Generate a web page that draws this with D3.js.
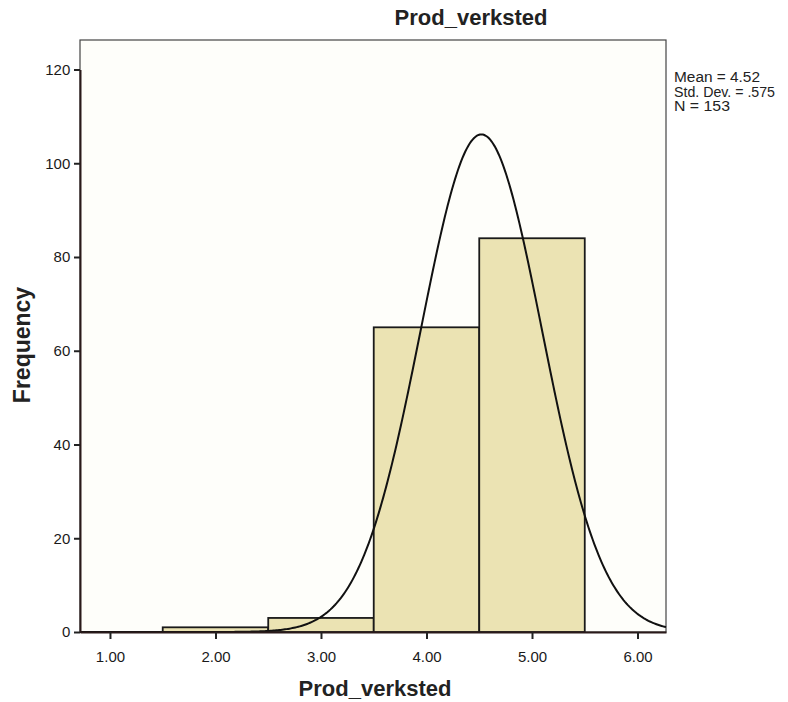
<!DOCTYPE html>
<html><head><meta charset="utf-8">
<script src="https://cdn.jsdelivr.net/npm/d3@7"></script>
<style>body{margin:0;background:#fff}svg{display:block}text{font-family:"Liberation Sans",Arial,sans-serif}</style>
</head><body>
<svg id="c" width="788" height="702"></svg>
<script>
const binStarts = [1.5, 2.5, 3.5, 4.5];
const binEnds = [2.5, 3.5, 4.5, 5.5];
const counts = [1, 3, 65, 84];
const xTicks = [1, 2, 3, 4, 5, 6];
const yTicks = [0, 20, 40, 60, 80, 100, 120];
const statMean = 4.52, statSD = 0.575, statN = 153, binWidth = 1;
const statLabels = ["Mean = 4.52", "Std. Dev. = .575", "N = 153"];

const svg = d3.select("#c");
const L = 80, R = 666, T = 40, B = 632;
const x = d3.scaleLinear().domain([0.716, 6.27]).range([L, R]);
const y = d3.scaleLinear().domain([0, 120]).range([B, 69.5]);

svg.append("rect").attr("x", L).attr("y", T).attr("width", R - L).attr("height", B - T)
  .attr("fill", "#fefefa").attr("stroke", "#444").attr("stroke-width", 1.2);

svg.append("g").selectAll("rect").data(counts).join("rect")
  .attr("x", (d, i) => x(binStarts[i]))
  .attr("width", (d, i) => x(binEnds[i]) - x(binStarts[i]))
  .attr("y", d => y(d)).attr("height", d => B - y(d))
  .attr("fill", "#ebe3b3").attr("stroke", "#1a1a1a").attr("stroke-width", 1.8);

const curvePts = d3.range(0, 401).map(i => {
  const xv = x.domain()[0] + (x.domain()[1] - x.domain()[0]) * i / 400;
  const z = (xv - statMean) / statSD;
  return [xv, statN * binWidth / (statSD * Math.sqrt(2 * Math.PI)) * Math.exp(-0.5 * z * z)];
});
svg.append("path").datum(curvePts)
  .attr("d", d3.line().x(d => x(d[0])).y(d => y(d[1])))
  .attr("fill", "none").attr("stroke", "#111").attr("stroke-width", 2);

const xa = svg.append("g").attr("transform", `translate(0,${B})`)
  .call(d3.axisBottom(x).tickValues(xTicks).tickFormat(d3.format(".2f")).tickSize(7).tickSizeOuter(0));
const ya = svg.append("g").attr("transform", `translate(${L},0)`)
  .call(d3.axisLeft(y).tickValues(yTicks).tickSize(6).tickSizeOuter(0));
[xa, ya].forEach(a => {
  a.attr("font-size", 15).attr("font-family", '"Liberation Sans",Arial,sans-serif');
  a.select(".domain").attr("stroke", "#2a1a1a").attr("stroke-width", 2);
  a.selectAll(".tick line").attr("stroke", "#222").attr("stroke-width", 2);
  a.selectAll("text").attr("fill", "#1a1a1a").style("font-size", "15px");
});
xa.selectAll("text").attr("dy", "1.3em");
ya.selectAll("text").attr("dx", "-0.05em");

svg.append("text").attr("x", 471).attr("y", 25).attr("text-anchor", "middle")
  .attr("font-size", 22).attr("font-weight", "bold").attr("fill", "#222").text("Prod_verksted");
svg.append("text").attr("x", 375).attr("y", 696).attr("text-anchor", "middle")
  .attr("font-size", 22).attr("font-weight", "bold").attr("fill", "#222").text("Prod_verksted");
svg.append("text").attr("transform", "translate(30,345) rotate(-90)").attr("text-anchor", "middle")
  .attr("font-size", 23).attr("font-weight", "bold").attr("fill", "#222").text("Frequency");

svg.append("g").selectAll("text").data(statLabels).join("text")
  .attr("x", 674).attr("y", (d, i) => 82 + i * 14.5)
  .attr("font-size", 14).attr("fill", "#222")
  .attr("textLength", (d, i) => [86, 101, 56][i]).attr("lengthAdjust", "spacingAndGlyphs")
  .text(d => d);
</script>
</body></html>
